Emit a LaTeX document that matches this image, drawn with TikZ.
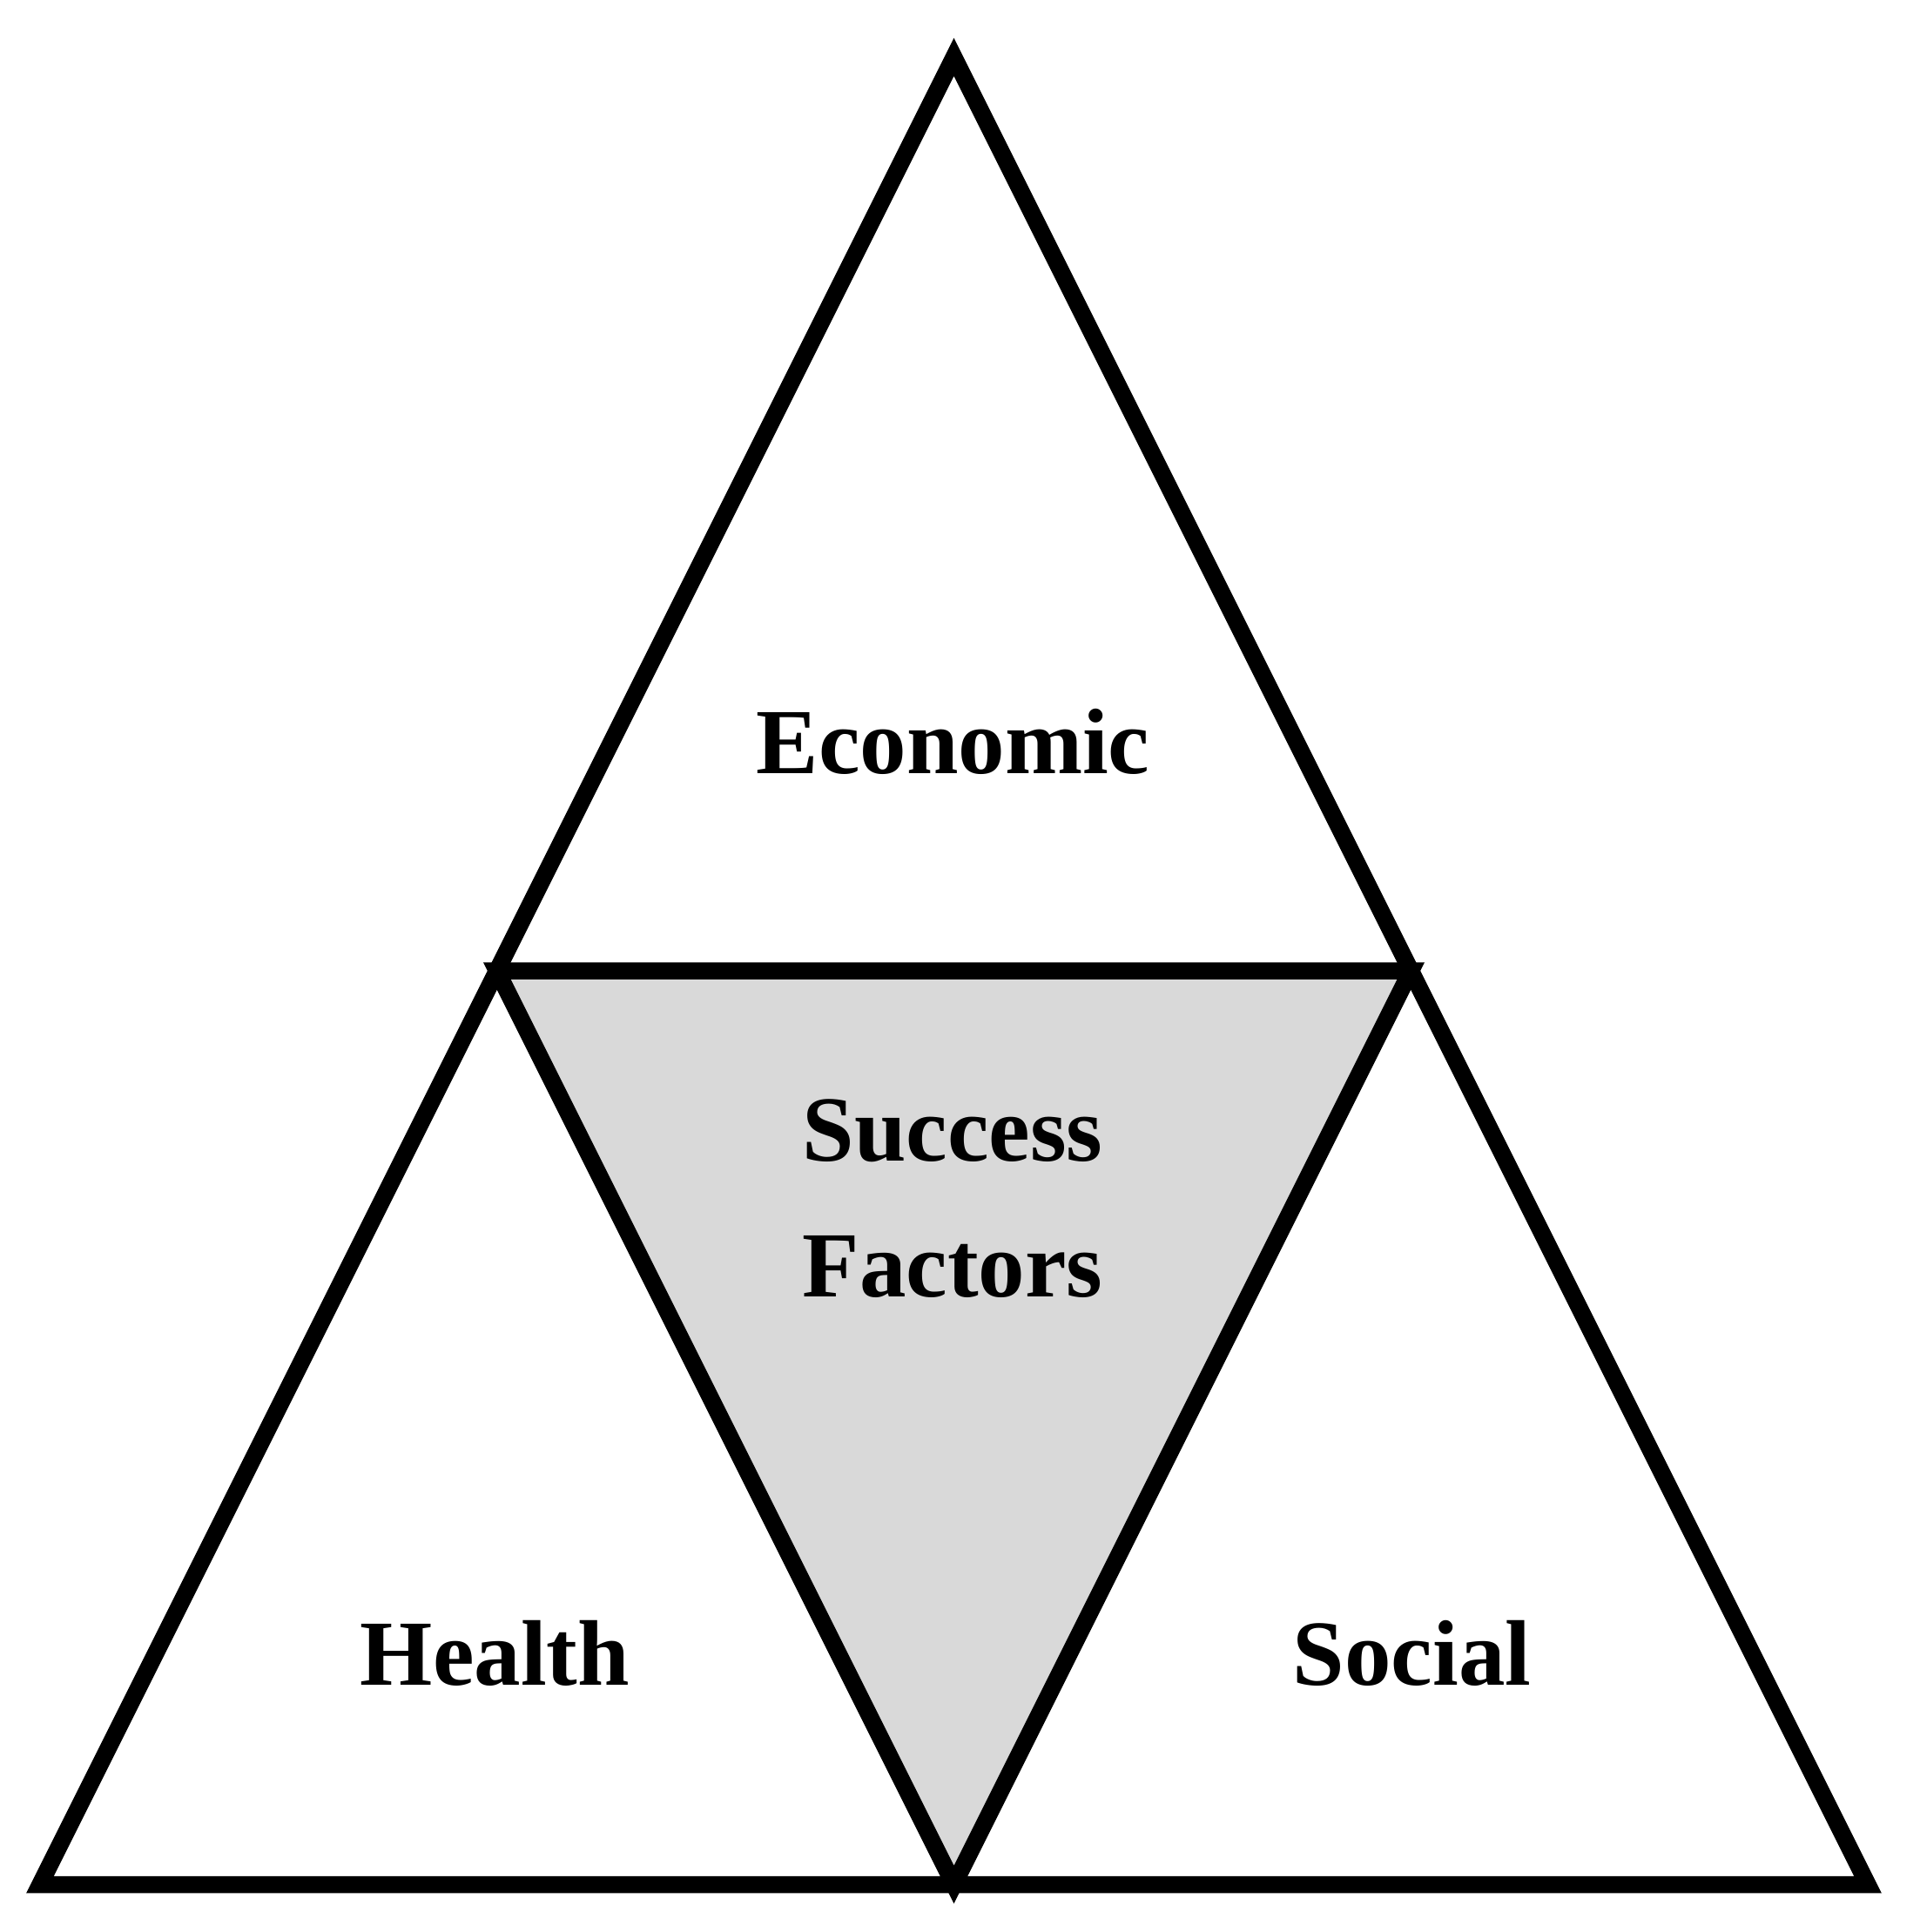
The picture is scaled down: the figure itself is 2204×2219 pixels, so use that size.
\documentclass[tikz,border=0pt]{standalone}
\usepackage{fontspec}
\setmainfont{Liberation Serif}
\definecolor{innergray}{HTML}{D9D9D9}
\begin{document}
\begin{tikzpicture}[x=1pt,y=-1pt,
  edge/.style={draw=black,line width=19.5pt,line join=miter},
  lbl/.style={anchor=base,inner sep=0pt,font=\fontsize{107}{128}\selectfont\bfseries}]
\useasboundingbox (0,0) rectangle (2204,2219);
\coordinate (A) at (1095.5,65.5);
\coordinate (BL) at (46,2164.5);
\coordinate (BR) at (2145,2164.5);
\coordinate (ML) at (570.75,1115);
\coordinate (MR) at (1620.25,1115);
\coordinate (MB) at (1095.5,2164.5);
\fill[innergray] (ML) -- (MR) -- (MB) -- cycle;
\draw[edge] (A) -- (BL) -- (BR) -- cycle;
\draw[edge] (ML) -- (MR) -- (MB) -- cycle;
\node[lbl] (eco) at (1094.5,888) {Economic};
\node[lbl] (suc) at (1094,1333) {Success};
\node[lbl] (fac) at (1094,1489) {Factors};
\node[lbl] (hea) at (568.5,1935) {Health};
\node[lbl] (soc) at (1621.5,1935) {Social};
\end{tikzpicture}
\end{document}
